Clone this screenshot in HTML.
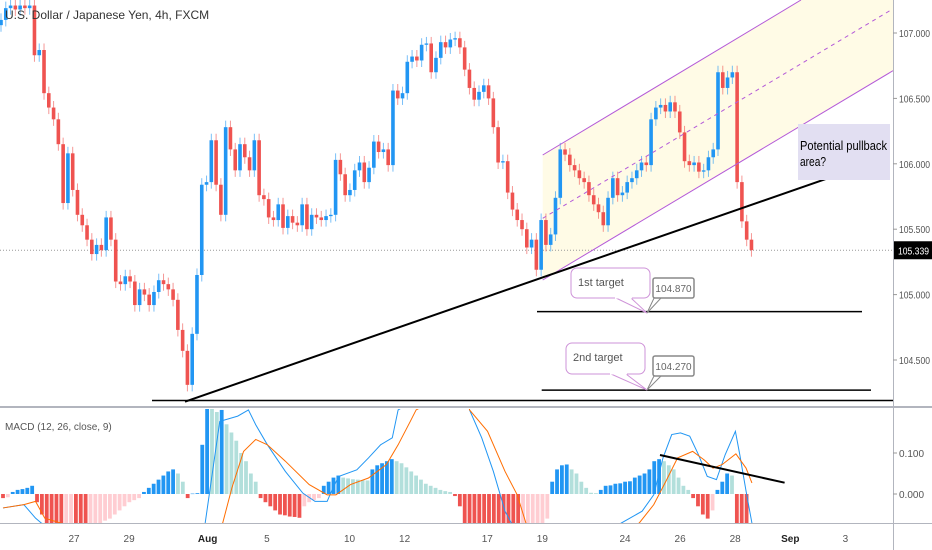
<!DOCTYPE html>
<html><head><meta charset="utf-8"><style>
html,body{margin:0;padding:0;background:#fff;width:932px;height:550px;overflow:hidden}
svg{display:block;font-family:"Liberation Sans",sans-serif}
</style></head><body>
<svg id="chart" width="932" height="550" viewBox="0 0 932 550">
<defs>
<clipPath id="mainClip"><rect x="0" y="0" width="893" height="406"/></clipPath>
<clipPath id="macdClip"><rect x="0" y="409" width="893" height="114"/></clipPath>
</defs>
<g id="main" clip-path="url(#mainClip)"></g>
<g id="macd" clip-path="url(#macdClip)"></g>
<g id="axes"></g>
</svg>
<script>
const closes=[107.10,107.19,107.21,107.18,107.21,107.19,107.21,106.83,106.87,106.54,106.43,106.34,106.15,105.70,106.08,105.80,105.61,105.53,105.42,105.31,105.38,105.34,105.59,105.42,105.10,105.08,105.14,105.10,104.92,105.04,105.00,104.92,105.02,105.11,105.08,105.04,104.96,104.73,104.57,104.31,104.70,105.15,105.84,105.86,106.18,105.84,105.61,106.28,106.11,105.95,106.15,106.05,105.95,106.18,105.76,105.73,105.59,105.57,105.69,105.51,105.60,105.55,105.53,105.69,105.50,105.61,105.59,105.57,105.60,105.61,106.03,105.92,105.76,105.80,105.95,106.01,105.86,105.97,106.17,106.09,106.11,105.99,106.56,106.50,106.54,106.78,106.82,106.79,106.91,106.92,106.70,106.81,106.93,106.89,106.95,106.96,106.89,106.72,106.58,106.49,106.55,106.60,106.50,106.28,106.01,106.02,105.78,105.65,105.57,105.50,105.36,105.42,105.19,105.57,105.38,105.46,105.74,106.11,106.07,105.99,105.95,105.89,105.86,105.76,105.69,105.63,105.53,105.74,105.89,105.76,105.78,105.86,105.89,105.95,106.01,105.99,106.34,106.43,106.45,106.40,106.47,106.40,106.24,106.02,105.99,106.01,105.94,105.95,106.05,106.11,106.70,106.58,106.66,106.70,105.86,105.56,105.42,105.34];
const firstOpen=107.06;
const histVals=[-0.01,-0.008,0.005,0.01,0.012,0.015,0.02,-0.02,-0.05,-0.08,-0.1,-0.11,-0.12,-0.11,-0.10,-0.11,-0.12,-0.13,-0.12,-0.10,-0.08,-0.065,-0.06,-0.05,-0.04,-0.03,-0.02,-0.015,-0.01,0.005,0.015,0.025,0.035,0.045,0.055,0.06,0.05,0.03,-0.01,0.001,0.002,0.12,0.22,0.21,0.20,0.205,0.17,0.15,0.13,0.10,0.08,0.05,0.03,-0.01,-0.02,-0.03,-0.04,-0.05,-0.052,-0.055,-0.056,-0.058,-0.03,-0.02,-0.015,-0.01,0.02,0.03,0.04,0.045,0.04,0.038,0.036,0.035,0.034,0.033,0.06,0.07,0.075,0.08,0.085,0.08,0.075,0.065,0.055,0.045,0.035,0.025,0.02,0.015,0.01,0.007,0.005,-0.005,-0.03,-0.08,-0.1,-0.12,-0.13,-0.14,-0.15,-0.155,-0.16,-0.165,-0.17,-0.175,-0.18,-0.16,-0.14,-0.12,-0.10,-0.08,-0.06,0.03,0.06,0.07,0.072,0.06,0.05,0.03,0.015,0.003,0.002,0.01,0.02,0.021,0.025,0.026,0.03,0.031,0.04,0.045,0.05,0.06,0.08,0.085,0.08,0.07,0.06,0.04,0.02,0.01,-0.01,-0.03,-0.05,-0.06,-0.04,0.01,0.03,0.05,0.045,-0.08,-0.10,-0.12];
const macdIdx=[0,4.3,6.7,7.9,20,35,41.6,44.6,48.3,50.5,52,54.4,58.1,61.7,64.2,66.7,67.9,69.1,72.8,75.2,77.7,80.1,81.3,95,96,98.5,100.9,103.3,104.6,115,127.2,131.5,133.9,135.8,137.6,139.4,141.3,143.1,144.9,146.8,148.6,150.7,151.6,152.9,154.1];
const macdVals=[-0.034,-0.026,-0.059,-0.071,-0.13,-0.15,-0.071,0.177,0.19,0.205,0.169,0.12,0.055,0.002,-0.018,-0.018,0.015,0.043,0.059,0.088,0.12,0.137,0.205,0.3,0.205,0.137,0.055,-0.042,-0.071,-0.15,-0.071,-0.042,-0.002,0.088,0.145,0.149,0.141,0.096,0.043,0.035,0.096,0.153,0.096,0.0065,-0.071];
const signalIdx=[0,4.3,6.7,8.6,20,38,45.2,47.1,49.5,52,54.4,58.1,63,66.7,68.5,71.5,75.2,78.9,81.3,83.8,85,95,96,99.7,103.3,105.8,107.6,118,130.9,133.9,136.4,138.8,141.9,144.3,146.1,148,150.8,152.9,154.1];
const signalVals=[-0.034,-0.026,-0.018,-0.059,-0.10,-0.12,-0.071,0.015,0.104,0.133,0.12,0.08,0.023,-0.002,-0.002,0.023,0.039,0.072,0.12,0.177,0.205,0.27,0.205,0.153,0.055,-0.002,-0.071,-0.13,-0.071,-0.026,0.031,0.088,0.104,0.083,0.063,0.072,0.098,0.063,0.027];
const priceTicks=[107.0,106.5,106.0,105.5,105.0,104.5];
const macdTicks=[0.1,0.0];
const dateLabels=["27","29","Aug","5","10","12","17","19","24","26","28","Sep","3"];
const dateDay=[0,2,4.85,7,10,12,15,17,20,22,24,26,28];

const NS="http://www.w3.org/2000/svg";
function mk(tag,attrs,parent){const e=document.createElementNS(NS,tag);for(const k in attrs)e.setAttribute(k,attrs[k]);parent.appendChild(e);return e;}
const yP=p=>33+(107-p)*130.8;
const xC=i=>1+i*4.78;
const yM=v=>494-v*410;
const xH=i=>3+i*4.86;
const xD=d=>74+d*27.55;
const main=document.getElementById('main'),macd=document.getElementById('macd'),axes=document.getElementById('axes');

let e=mk('polygon',{points:"542.7,155 801,0 893,0 893,70.7 542.7,280",fill:"#fffbe3",opacity:"0.9"},main);

e=mk('line',{x1:0,y1:yP(105.339),x2:893,y2:yP(105.339),stroke:"#999",'stroke-width':1,'stroke-dasharray':"1,2"},main);


let prev=firstOpen;
closes.forEach((c,i)=>{
  const o=prev;prev=c;
  const up=c>=o,col=up?"#2196f3":"#ef5350";
  const hi=Math.max(o,c)+0.05,lo=Math.min(o,c)-0.05;
  const g=mk('g',{},main);
  
  
  mk('line',{x1:xC(i),x2:xC(i),y1:yP(hi),y2:yP(lo),stroke:col,'stroke-width':1,opacity:0.6},g);
  const y1=yP(Math.max(o,c)),y2=yP(Math.min(o,c));
  mk('rect',{x:xC(i)-1.8,y:y1,width:3.6,height:Math.max(1,y2-y1),fill:col},g);
});

e=mk('line',{x1:542.7,y1:155,x2:801,y2:0,stroke:"#b45ad8",'stroke-width':1},main);

e=mk('line',{x1:542.7,y1:218.3,x2:891,y2:10,stroke:"#b45ad8",'stroke-width':1,'stroke-dasharray':"4,4"},main);

e=mk('line',{x1:542.7,y1:280,x2:893,y2:70.7,stroke:"#b45ad8",'stroke-width':1},main);

e=mk('line',{x1:185,y1:401.7,x2:839.3,y2:174.3,stroke:"#000",'stroke-width':2},main);

e=mk('line',{x1:152,y1:400.5,x2:893,y2:400.5,stroke:"#000",'stroke-width':1.5},main);

e=mk('line',{x1:537,y1:yP(104.87),x2:862,y2:yP(104.87),stroke:"#000",'stroke-width':1.5},main);

e=mk('line',{x1:541.7,y1:yP(104.27),x2:871,y2:yP(104.27),stroke:"#000",'stroke-width':1.5},main);


function callout(x,y,w,h,tipx,tipy,text,name){
  const g=mk('g',{},main);
  
  
  mk('path',{d:`M${x+45} ${y+h} L${tipx} ${tipy} L${x+60} ${y+h}`,fill:"#fff",stroke:"#ce93d8"},g);
  mk('rect',{x:x,y:y,width:w,height:h,rx:6,fill:"#fff",stroke:"#ce93d8"},g);
  mk('path',{d:`M${x+44} ${y+h-0.5} L${x+61} ${y+h-0.5}`,stroke:"#fff",'stroke-width':2},g);
  const t=mk('text',{x:x+7,y:y+18,'font-size':11,fill:"#555"},g);t.textContent=text;
}
function pricebox(x,y,tipx,tipy,text,name){
  const g=mk('g',{},main);
  
  
  mk('path',{d:`M${x+2} ${y+18} L${tipx} ${tipy} L${x+8} ${y+20}`,fill:"#fff",stroke:"#888"},g);
  mk('rect',{x:x,y:y,width:41,height:20,rx:2,fill:"#fff",stroke:"#888",'stroke-width':1.5},g);
  const t=mk('text',{x:x+20.5,y:y+14,'font-size':10,fill:"#666",'text-anchor':"middle"},g);t.textContent=text;
}
callout(571,268,79,30,647,313,"1st target","first-target-callout");
pricebox(653,278,647,313,"104.870","first-target-price-label");
callout(566,343,79,31,647,390,"2nd target","second-target-callout");
pricebox(653,356,647,390,"104.270","second-target-price-label");
e=mk('rect',{x:798,y:124,width:92,height:56,fill:"#e2dff2"},main);

e=mk('text',{x:800,y:150,'font-size':13,fill:"#000",textLength:87,lengthAdjust:"spacingAndGlyphs"},main);e.textContent="Potential pullback";

e=mk('text',{x:800,y:166,'font-size':13,fill:"#000",textLength:26,lengthAdjust:"spacingAndGlyphs"},main);e.textContent="area?";


histVals.forEach((v,i)=>{
  const p=i>0?histVals[i-1]:0;
  let col;
  if(v>=0)col=(v>=p)?"#2196f3":"#b2dfdb";else col=(v<=p)?"#ef5350":"#ffcdd2";
  const r=mk('rect',{x:xH(i)-1.9,y:Math.min(yM(v),yM(0)),width:3.8,height:Math.max(0.5,Math.abs(yM(v)-yM(0))),fill:col},macd);
  
  
});
function pl(idx,vals,col,name){
  const l=mk('polyline',{points:idx.map((k,j)=>xH(k)+","+yM(vals[j])).join(" "),fill:"none",stroke:col,'stroke-width':1},macd);
  
  
}
pl(macdIdx,macdVals,"#2196f3","macd-line");
pl(signalIdx,signalVals,"#ff6d00","signal-line");
e=mk('line',{x1:660,y1:455,x2:784.6,y2:482.7,stroke:"#000",'stroke-width':2},macd);


e=mk('line',{x1:893.5,y1:0,x2:893.5,y2:550,stroke:"#b2b5be",'stroke-width':1},axes);

e=mk('line',{x1:0,y1:407,x2:932,y2:407,stroke:"#b2b5be",'stroke-width':2},axes);

e=mk('line',{x1:0,y1:523.5,x2:932,y2:523.5,stroke:"#b2b5be",'stroke-width':1},axes);

priceTicks.forEach(p=>{
  const y=yP(p);
  mk('line',{x1:893,x2:897,y1:y,y2:y,stroke:"#999"},axes);
  const t=mk('text',{x:899,y:y+4,'font-size':10,fill:"#555",textLength:31,lengthAdjust:"spacingAndGlyphs"},axes);t.textContent=p.toFixed(3);
  
  
});
e=mk('rect',{x:894,y:yP(105.339)-9,width:38,height:18,fill:"#000"},axes);

e=mk('text',{x:898,y:yP(105.339)+4,'font-size':10,fill:"#fff",textLength:31,lengthAdjust:"spacingAndGlyphs"},axes);e.textContent="105.339";

macdTicks.forEach(v=>{
  const y=yM(v);
  mk('line',{x1:893,x2:897,y1:y,y2:y,stroke:"#999"},axes);
  const t=mk('text',{x:899,y:y+4,'font-size':10,fill:"#555",textLength:25,lengthAdjust:"spacingAndGlyphs"},axes);t.textContent=v.toFixed(3);
  
  
});
dateLabels.forEach((s,i)=>{
  const t=mk('text',{x:xD(dateDay[i]),y:542,'font-size':10,fill:(s==="Aug"||s==="Sep")?"#222":"#555",'font-weight':(s==="Aug"||s==="Sep")?"bold":"normal",'text-anchor':"middle"},axes);
  t.textContent=s;
  
  
});
e=mk('text',{x:5,y:19,'font-size':12,fill:"#333"},axes);e.textContent="U.S. Dollar / Japanese Yen, 4h, FXCM";

e=mk('text',{x:5,y:430,'font-size':10,fill:"#555"},axes);e.textContent="MACD (12, 26, close, 9)";

</script>
</body></html>
